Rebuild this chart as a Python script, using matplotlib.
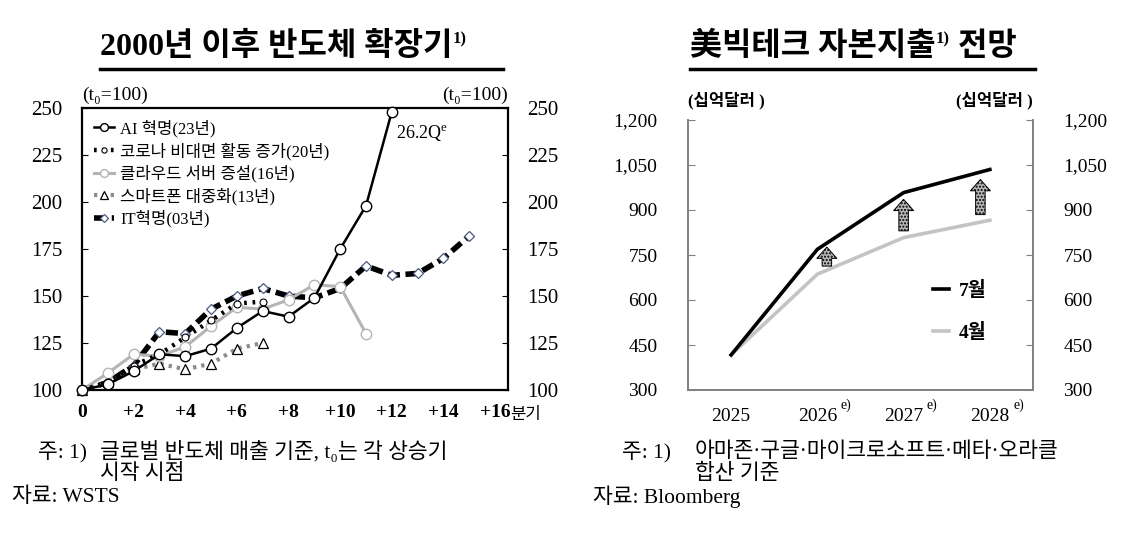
import numpy as np
import matplotlib
matplotlib.use('Agg')
import matplotlib.pyplot as plt
from matplotlib.lines import Line2D
from matplotlib import transforms

plt.rcParams['font.family'] = ['Liberation Serif', 'Noto Sans CJK KR', 'DejaVu Sans']
plt.rcParams['mathtext.fontset'] = 'custom'
plt.rcParams['mathtext.rm'] = 'Liberation Serif'
plt.rcParams['mathtext.it'] = 'Liberation Serif:italic'

# left chart: semiconductor upcycles, index t0=100, by quarter
ai_q = list(range(0, 13))
ai_vals = [100, 103, 110, 119, 118, 122, 133, 142, 139, 149, 175, 198, 248]
covid_q = list(range(0, 8))
covid_vals = [100, 104, 113, 119, 128, 137, 146, 147]
cloud_q = list(range(0, 12))
cloud_vals = [100, 109, 119, 118, 123, 134, 144, 143, 148, 156, 155, 130]
phone_q = list(range(0, 8))
phone_vals = [100, 104, 111, 114, 111, 114, 122, 125]
it_q = list(range(0, 16))
it_vals = [100, 104, 113, 131, 130, 143, 150, 154, 150, 149, 154, 166, 161, 162, 170, 182]
series_labels = ['AI 혁명(23년)', '코로나 비대면 활동 증가(20년)', '클라우드 서버 증설(16년)',
                 '스마트폰 대중화(13년)', 'IT혁명(03년)']
left_xticks = [0, 2, 4, 6, 8, 10, 12, 14, 16]
left_xlabels = ['0', '+2', '+4', '+6', '+8', '+10', '+12', '+14', '+16']
left_yticks = [100, 125, 150, 175, 200, 225, 250]

# right chart: US big tech capex outlook (bn USD)
years = ['2025', '2026', '2027', '2028']
capex_jul = [417, 769, 958, 1035]
capex_apr = [417, 686, 808, 866]
arrow_pos = [1.11, 2.0, 2.89]
right_yticks = [300, 450, 600, 750, 900, 1050, 1200]

fig = plt.figure(figsize=(11.44, 5.44), dpi=100)

# ---------------- left chart ----------------
ax = fig.add_axes([82 / 1144, 1 - 390 / 544, 426 / 1144, 282 / 544])
ax.plot(it_q, it_vals, color='black', lw=4, dashes=(2.2, 1.0), marker='D', ms=5.5,
        mfc='white', mec='#4a5a80', mew=0.9, clip_on=False, zorder=2, label=series_labels[4])
ax.plot(phone_q, phone_vals, color='#8c8c8c', lw=3, dashes=(0.8, 1.2), marker='^', ms=7,
        mfc='white', mec='black', mew=0.9, clip_on=False, zorder=3, label=series_labels[3])
ax.plot(cloud_q, cloud_vals, color='#b4b4b4', lw=2.2, marker='o', ms=7.5,
        mfc='white', mec='#b4b4b4', mew=1.0, clip_on=False, zorder=3, label=series_labels[2])
ax.plot(covid_q, covid_vals, color='black', lw=3.2, dashes=(0.6, 1.3), marker='o', ms=5,
        mfc='white', mec='black', mew=0.8, clip_on=False, zorder=4, label=series_labels[1])
ax.plot(ai_q, ai_vals, color='black', lw=1.8, marker='o', ms=7.5,
        mfc='white', mec='black', mew=1.0, clip_on=False, zorder=5, label=series_labels[0])

handles, labels = ax.get_legend_handles_labels()
order = [4, 3, 2, 1, 0]
ax.legend([handles[i] for i in order], [labels[i] for i in order], loc='upper left',
          bbox_to_anchor=(0.0, 1.0), frameon=False, fontsize=12, handlelength=1.2,
          handletextpad=0.4, labelspacing=0.3, borderaxespad=0.3, markerscale=0.75)

ax.annotate(r'26.2Q$^{\mathrm{e}}$', xy=(ai_q[-1], ai_vals[-1]), xytext=(3, -8),
            textcoords='offset points', fontsize=13, ha='left', va='top')

ax.set_xlim(0, 16.5)
ax.set_ylim(100, 250)
ax.set_xticks(left_xticks)
ax.set_xticklabels(left_xlabels, fontsize=14, fontweight='bold')
ax.set_yticks(left_yticks)
ax.tick_params(axis='y', direction='in', length=4, labelsize=15, pad=14,
               right=True, labelright=True)
ax.tick_params(axis='x', direction='in', length=0, pad=10)
for s in ax.spines.values():
    s.set_linewidth(1.6)
trans = transforms.blended_transform_factory(ax.transData, ax.transAxes)
ax.text(16.6, -0.09, '분기', transform=trans, fontsize=12, ha='left', va='center')
ax.text(0.0, 1.015, '(t₀=100)', transform=ax.transAxes, fontsize=14, ha='left', va='bottom')
ax.text(1.0, 1.015, '(t₀=100)', transform=ax.transAxes, fontsize=14, ha='right', va='bottom')

# ---------------- right chart ----------------
bx = fig.add_axes([688 / 1144, 1 - 390 / 544, 345 / 1144, 270 / 544])
xs = np.arange(len(years))
bx.plot(xs, capex_apr, color='#c4c4c4', lw=2.6, label='4월')
bx.plot(xs, capex_jul, color='black', lw=2.6, label='7월')
for xa in arrow_pos:
    lo = np.interp(xa, xs, capex_apr)
    hi = np.interp(xa, xs, capex_jul)
    gap = hi - lo
    bx.annotate('', xy=(xa, hi - 0.15 * gap), xytext=(xa, lo + 0.15 * gap),
                arrowprops=dict(arrowstyle='simple,head_length=0.45,head_width=0.8,tail_width=0.38',
                                fc='#b8b8b8', ec='black', lw=0.7, hatch='.....',
                                shrinkA=0, shrinkB=0, mutation_scale=18))
h2, l2 = bx.get_legend_handles_labels()
bx.legend([h2[1], h2[0]], [l2[1], l2[0]], loc='upper left', bbox_to_anchor=(0.66, 0.47),
          frameon=False, handlelength=0.8, handletextpad=0.5, labelspacing=1.2,
          prop={'weight': 'bold', 'size': 14})

bx.set_xlim(-0.5, 3.5)
bx.set_ylim(300, 1200)
bx.set_xticks(xs)
bx.set_xticklabels(years, fontsize=14)
bx.set_yticks(right_yticks)
bx.set_yticklabels([f'{v:,}' for v in right_yticks], fontsize=14)
bx.tick_params(axis='y', direction='in', length=5, color='#808080', pad=22,
               right=True, labelright=True)
bx.tick_params(axis='x', length=0, pad=13)
bx.spines['top'].set_visible(False)
for k in ['left', 'right', 'bottom']:
    bx.spines[k].set_color('#808080')
    bx.spines[k].set_linewidth(1.4)
trans_b = transforms.blended_transform_factory(bx.transData, bx.transAxes)
for i in range(1, len(years)):
    bx.text(i + 0.27, -0.055, 'e)', transform=trans_b, fontsize=10, ha='left', va='center')
bx.text(0.0, 1.04, '(십억달러 )', transform=bx.transAxes, fontsize=12, fontweight='bold',
        ha='left', va='bottom')
bx.text(1.0, 1.04, '(십억달러 )', transform=bx.transAxes, fontsize=12, fontweight='bold',
        ha='right', va='bottom')


# ---------------- titles ----------------
def title_parts(x0, parts, y=1 - 47 / 544):
    # parts: list of (text, is_superscript); laid out left to right
    renderer = fig.canvas.get_renderer()
    x = x0
    for txt, sup in parts:
        if sup:
            t = fig.text(x, y + 0.014, txt, fontsize=12, fontweight='bold', ha='left', va='center')
        else:
            t = fig.text(x, y, txt, fontsize=23, fontweight='bold', ha='left', va='center')
        bb = t.get_window_extent(renderer)
        x = fig.transFigure.inverted().transform((bb.x1, 0))[0]


title_parts(100 / 1144, [('2000년 이후 반도체 확장기', False), ('1)', True)])
fig.add_artist(Line2D([100 / 1144, 503 / 1144], [1 - 69 / 544] * 2, color='black', lw=2.5))
title_parts(690 / 1144, [('美빅테크 자본지출', False), ('1)', True), (' 전망', False)])
fig.add_artist(Line2D([690 / 1144, 1035 / 1144], [1 - 69 / 544] * 2, color='black', lw=2.5))

# ---------------- notes ----------------
fs = 15.5
fig.text(38 / 1144, 1 - 452 / 544, '주: 1)', fontsize=fs, va='center')
fig.text(100 / 1144, 1 - 452 / 544, '글로벌 반도체 매출 기준, t₀는 각 상승기', fontsize=fs, va='center')
fig.text(100 / 1144, 1 - 474 / 544, '시작 시점', fontsize=fs, va='center')
fig.text(12 / 1144, 1 - 497 / 544, '자료: WSTS', fontsize=fs, va='center')
fig.text(622 / 1144, 1 - 452 / 544, '주: 1)', fontsize=fs, va='center')
fig.text(695 / 1144, 1 - 452 / 544, '아마존·구글·마이크로소프트·메타·오라클', fontsize=fs, va='center')
fig.text(695 / 1144, 1 - 474 / 544, '합산 기준', fontsize=fs, va='center')
fig.text(593 / 1144, 1 - 497 / 544, '자료: Bloomberg', fontsize=fs, va='center')

fig.savefig('out.png', dpi=100)
